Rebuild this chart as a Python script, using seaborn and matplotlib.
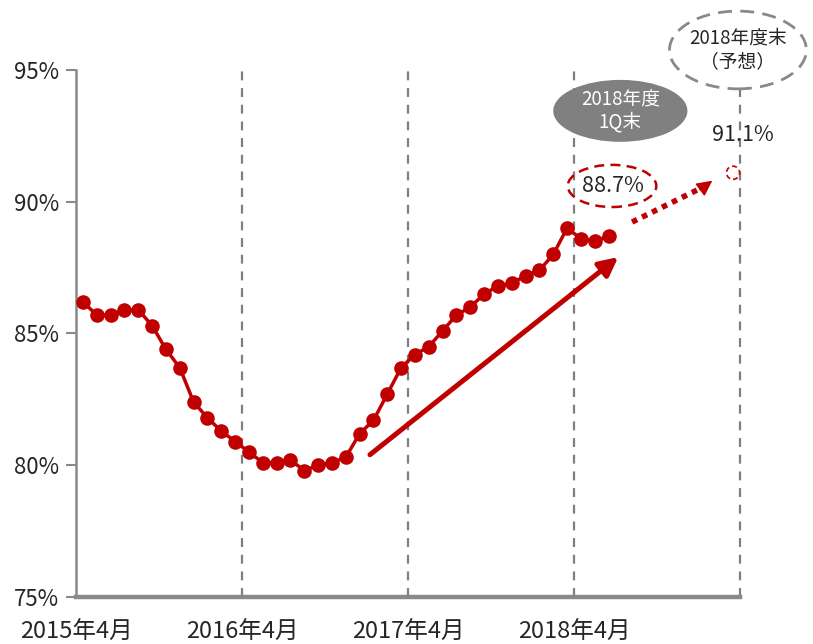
import numpy as np
import pandas as pd
import matplotlib
matplotlib.use("Agg")
import matplotlib.pyplot as plt
import matplotlib.patches as mpatches
import seaborn as sns

# monthly ratio (%), Apr 2015 .. Jun 2018
values = [86.2, 85.7, 85.7, 85.9, 85.9, 85.3, 84.4, 83.7, 82.4, 81.8,
          81.3, 80.9, 80.5, 80.1, 80.1, 80.2, 79.8, 80.0, 80.1, 80.3,
          81.2, 81.7, 82.7, 83.7, 84.2, 84.5, 85.1, 85.7, 86.0, 86.5,
          86.8, 86.9, 87.2, 87.4, 88.0, 89.0, 88.6, 88.5, 88.7]
forecast_value = 91.1
n_months = 48  # Apr 2015 .. Mar 2019 on the axis
year_labels = ["2015年4月", "2016年4月", "2017年4月", "2018年4月"]
yticks = [75, 80, 85, 90, 95]

sns.set_style("white")
plt.rcParams['font.family'] = ['Noto Sans CJK JP', 'DejaVu Sans']

red = '#C00000'
gray = '#898989'

fig = plt.figure(figsize=(8.13, 6.44), dpi=100)
ax = fig.add_axes([0.0935, 0.073, 0.8167, 0.8183])

df = pd.DataFrame({'m': np.arange(len(values)), 'v': values})
sns.lineplot(data=df, x='m', y='v', ax=ax, color=red, linewidth=2.5,
             marker='o', markersize=10.5, markeredgewidth=0, zorder=5)

ax.set_xlim(-0.5, n_months - 0.5)
ax.set_ylim(75, 95)
ax.set_xlabel('')
ax.set_ylabel('')

# dashed year separators
for b in [11.5, 23.5, 35.5]:
    ax.axvline(b, color='#7f7f7f', lw=1.6, ls=(0, (4, 3.5)), zorder=1)
ax.vlines(n_months - 0.5, 75, 94.25, color='#7f7f7f', lw=1.6, ls=(0, (4, 3.5)),
          zorder=1, clip_on=False)

ax.set_yticks(yticks)
ax.set_yticklabels([f'{t}%' for t in yticks], fontsize=16)
ax.set_xticks([-0.5, 11.5, 23.5, 35.5])
ax.set_xticklabels(year_labels, fontsize=17)
ax.set_xticks([5.5, 17.5, 29.5, 41.5, 47.5], minor=True)
ax.tick_params(axis='x', which='major', length=0, pad=17)
ax.tick_params(axis='x', which='minor', direction='in', length=5, width=2.5, color=gray)
ax.tick_params(axis='y', direction='out', length=7, width=1.5, color=gray, pad=5, left=True)

for s in ['top', 'right']:
    ax.spines[s].set_visible(False)
ax.spines['left'].set_color(gray)
ax.spines['left'].set_linewidth(1.8)
ax.spines['bottom'].set_color(gray)
ax.spines['bottom'].set_linewidth(3.2)

# trend arrow
ax.annotate('', xy=(38.7, 87.9), xytext=(20.75, 80.4),
            arrowprops=dict(arrowstyle='-|>', color=red, lw=3.6, mutation_scale=28,
                            shrinkA=0, shrinkB=0), zorder=4)

# dotted arrow to forecast
ax.plot([39.7, 45.0], [89.23, 90.6], color=red, lw=4, ls=(0, (1, 1)),
        solid_capstyle='butt', dash_capstyle='butt', zorder=4)
ax.annotate('', xy=(45.5, 90.8), xytext=(44.6, 90.45),
            arrowprops=dict(arrowstyle='-|>', color=red, lw=1, mutation_scale=24,
                            shrinkA=0, shrinkB=0), annotation_clip=False, zorder=4)

# 88.7% callout
ax.add_patch(mpatches.Ellipse((38.25, 90.6), 6.4, 1.6, fill=False, edgecolor=red,
                              lw=1.8, ls=(0, (4, 2.5)), zorder=6))
ax.text(38.3, 90.6, f'{values[-1]:.1f}%', ha='center', va='center', fontsize=15.5, zorder=7)

# 1Q label
ax.add_patch(mpatches.Ellipse((38.85, 93.45), 9.7, 2.35, facecolor='#808080',
                              edgecolor='none', clip_on=False, zorder=6))
ax.text(38.85, 93.45, '2018年度\n1Q末', ha='center', va='center', fontsize=13.5,
        color='white', linespacing=1.1, zorder=7)

# forecast point + label
ax.add_patch(mpatches.Ellipse((47.0, forecast_value), 0.95, 0.5, fill=False,
                              edgecolor=red, lw=1.2, ls=(0, (3, 2)), clip_on=False, zorder=6))
ax.text(47.72, 92.55, f'{forecast_value:.1f}%', ha='center', va='center',
        fontsize=15.5, zorder=7)
ax.add_patch(mpatches.Ellipse((47.35, 95.76), 9.9, 2.95, facecolor='white',
                              edgecolor=gray, lw=2, ls=(0, (5, 3)), clip_on=False, zorder=6))
ax.text(47.35, 95.76, '2018年度末\n（予想）', ha='center', va='center', fontsize=13.5,
        linespacing=1.2, clip_on=False, zorder=7)

fig.savefig('out.png', dpi=100)
